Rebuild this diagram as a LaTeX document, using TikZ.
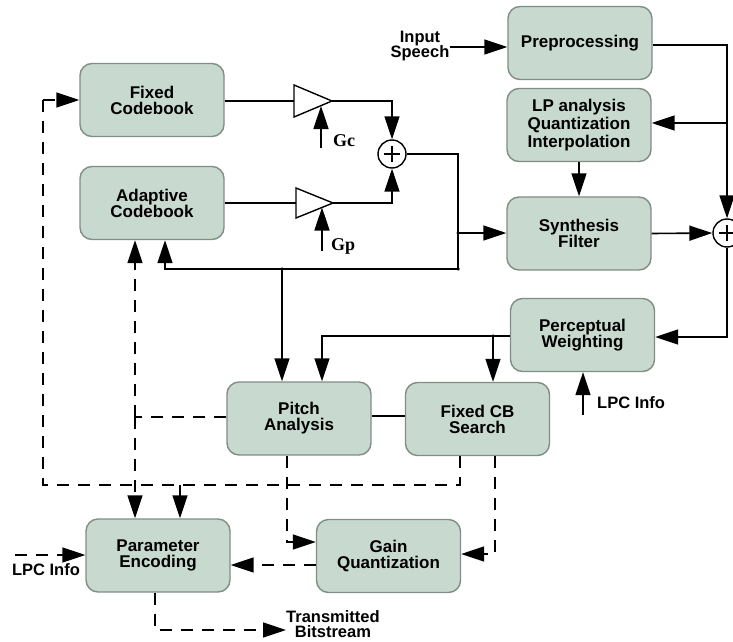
\documentclass[tikz,border=0pt]{standalone}
\usepackage{fontspec}
\setmainfont{Liberation Sans}
\newfontfamily\gainfont{Liberation Serif}
\usetikzlibrary{arrows.meta,calc}
\definecolor{boxfill}{RGB}{200,218,207}
\definecolor{boxline}{RGB}{128,142,134}
\tikzset{
  blk/.style={draw=boxline, line width=1.4pt, fill=boxfill, rounded corners=12pt,
    minimum width=144pt, minimum height=73pt, align=center, inner sep=2pt,
    font=\fontsize{17}{16}\selectfont\bfseries},
  lbl/.style={align=center, inner sep=0pt, font=\fontsize{16.5}{15.5}\selectfont\bfseries},
  gainlbl/.style={inner sep=0pt, anchor=west, font=\fontsize{18}{18}\selectfont\gainfont\bfseries},
  wire/.style={line width=1.6pt, draw=black},
  arr/.style={wire, -{Triangle[length=23pt,width=15pt]}},
  dwire/.style={wire, dash pattern=on 12pt off 9pt},
  darr/.style={dwire, -{Triangle[length=23pt,width=15pt]}},
  amp/.style={draw, line width=1.4pt, fill=white},
  adder/.style={draw, circle, line width=1.4pt, minimum size=28pt, inner sep=0pt, fill=white},
  dot/.style={circle, fill=black, inner sep=0pt, minimum size=3.5pt}
}
\begin{document}
\begin{tikzpicture}[x=1pt, y=-1pt]
\useasboundingbox (0,0) rectangle (733,642);

% processing blocks
\node[blk] (fcb) at (152,100) {Fixed\\Codebook};
\node[blk] (acb) at (152,203) {Adaptive\\Codebook};
\node[blk] (pre) at (580,43) {Preprocessing};
\node[blk, font=\fontsize{17}{18}\selectfont\bfseries] (lpa) at (579,125) {LP analysis\\Quantization\\Interpolation};
\node[blk] (syn) at (579,233.5) {Synthesis\\Filter};
\node[blk] (pw) at (582.5,335) {Perceptual\\Weighting};
\node[blk] (pa) at (299,418.5) {Pitch\\Analysis};
\node[blk] (fcs) at (477.5,419) {Fixed CB\\Search};
\node[blk] (gq) at (388.5,556) {Gain\\Quantization};
\node[blk] (pe) at (158,555.5) {Parameter\\Encoding};

% free text
\node[lbl] (speech) at (420,46) {Input\\Speech};
\node[lbl, anchor=west] (lpcr) at (597,403) {LPC Info};
\node[lbl] (lpcl) at (46,570) {LPC Info};
\node[lbl, anchor=west] (tx) at (286,624) {Transmitted\\Bitstream};
\node[gainlbl] (gclbl) at (333,141) {Gc};
\node[gainlbl] (gplbl) at (331,246) {Gp};

% gain amplifiers
\draw[amp] (294,85) -- (332,101) -- (294,117) -- cycle;
\draw[amp] (296,188) -- (333,203) -- (296,218) -- cycle;
\coordinate (gcin) at (294,101);
\coordinate (gcout) at (332,101);
\coordinate (gcctl) at (321,106);
\coordinate (gpin) at (296,203);
\coordinate (gpout) at (333,203);
\coordinate (gpctl) at (322,207.5);
\coordinate (gcsrc) at (321,148);
\coordinate (gpsrc) at (322,251);

% adders
\node[adder] (sum1) at (392,154) {};
\draw[line width=1.2pt] ($(sum1)+(-8,0)$) -- ($(sum1)+(8,0)$) ($(sum1)+(0,-8)$) -- ($(sum1)+(0,8)$);
\node[adder] (sum2) at (727,233) {};
\draw[line width=1.2pt] ($(sum2)+(-8,0)$) -- ($(sum2)+(8,0)$) ($(sum2)+(0,-8)$) -- ($(sum2)+(0,8)$);

% excitation path
\draw[wire] (fcb.east |- gcin) -- (gcin);
\draw[wire] (acb.east |- gpin) -- (gpin);
\draw[arr] (gcsrc) -- (gcctl);
\draw[arr] (gpsrc) -- (gpctl);
\draw[arr] (gcout) -| (sum1.north);
\draw[arr] (gpout) -| (sum1.south);
\coordinate (exc) at (458,233);
\coordinate (excb) at (458,269);
\coordinate (fb) at (282,269);
\draw[wire] (sum1.east) -| (excb);
\node[dot] at (exc) {};
\node[dot] at (fb) {};
\node[dot] at (excb) {};
\draw[arr] (exc) -- (syn.west |- exc);
\draw[arr] (excb) -- (165,269) -- (165,239 |- acb.south);
\draw[arr] (fb) -- (fb |- pa.north);

% speech path
\draw[arr] (speech.east |- 0,47) -- (pre.west |- 0,47);
\coordinate (lpt) at (727,123);
\draw[arr] (pre.east |- 0,45) -| (sum2.north);
\draw[arr] (lpt) -- (lpa.east |- lpt);
\draw[arr] (lpa.south) -- (syn.north);
\draw[arr] (syn.east) -- (sum2.west);
\coordinate (errc) at (727,337);
\draw[arr] (sum2.south) -- (errc) -- (pw.east |- errc);
\coordinate (lpcsrc) at (583,415);
\draw[arr] (lpcsrc) -- (lpcsrc |- pw.south);

% weighted target
\coordinate (wt) at (493,336);
\draw[arr] (pw.west |- wt) -- (322,336) -- (322,336 |- pa.north);
\node[dot] at (wt) {};
\draw[arr] (wt) -- (wt |- fcs.north);
\draw[wire] (pa.east |- 0,416) -- (fcs.west |- 0,416);

% parameter paths (dashed)
\coordinate (pj) at (135,417);
\draw[dwire] (pa.west |- pj) -- (pj);
\draw[darr] (pj) -- (pj |- acb.south);
\draw[darr] (pj) -- (pj |- pe.north);

\coordinate (fcsa) at (460,485);
\coordinate (fcsl) at (43,485);
\coordinate (fcst) at (43,100);
\coordinate (fcsj) at (180,485);
\draw[dwire] (fcsa |- fcs.south) -- (fcsa) -- (fcsl) -- (fcst);
\draw[darr] (fcst) -- (fcb.west |- fcst);
\draw[darr] (fcsj) -- (fcsj |- pe.north);

\coordinate (pab) at (287,542);
\draw[darr] (pab |- pa.south) -- (pab) -- (gq.west |- pab);
\coordinate (fcsb) at (495,554);
\draw[darr] (fcsb |- fcs.south) -- (fcsb) -- (gq.east |- fcsb);
\draw[darr] (gq.west |- 0,565) -- (pe.east |- 0,565);

\coordinate (lpcl0) at (15,555);
\draw[darr] (lpcl0) -- (pe.west |- lpcl0);
\coordinate (txc) at (155,630);
\draw[darr] (txc |- pe.south) -- (txc) -- (tx.west |- txc);
\end{tikzpicture}
\end{document}
